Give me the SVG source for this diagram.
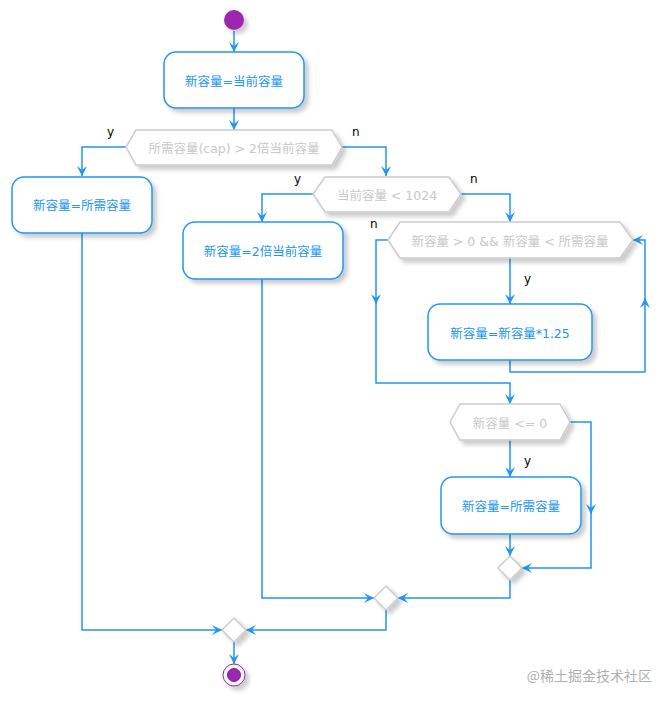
<svg xmlns="http://www.w3.org/2000/svg" width="670" height="703" viewBox="0 0 670 703">
<defs>
<filter id="sh" x="-20%" y="-20%" width="150%" height="160%">
<feDropShadow dx="4" dy="4" stdDeviation="2" flood-color="#000" flood-opacity="0.2"/>
</filter>
<marker id="ar" viewBox="0 0 10 10" markerWidth="10" markerHeight="10" refX="10" refY="5" orient="auto" markerUnits="userSpaceOnUse">
<path d="M0,0 L10,5 L0,10 L4,5 Z" fill="#2196F3"/>
</marker>
</defs>
<style>
.box{fill:#fff;stroke:#2196F3;stroke-width:1.5;filter:url(#sh)}
.hex{fill:#fff;stroke:#ccc;stroke-width:1.5;filter:url(#sh)}
.bt{font-family:"DejaVu Sans","Noto Sans CJK SC",sans-serif;font-size:12.5px;fill:#2196F3;text-anchor:middle;dominant-baseline:central}
.ht{font-family:"DejaVu Sans","Noto Sans CJK SC",sans-serif;font-size:12.5px;fill:#c8c8c8;text-anchor:middle;dominant-baseline:central}
.lb{font-family:"DejaVu Sans","Noto Sans CJK SC",sans-serif;font-size:12px;fill:#000}
.ln{fill:none;stroke:#2196F3;stroke-width:1.5;marker-end:url(#ar)}
</style>
<g id="connectors">
<path class="ln" d="M234,31 V52"/>
<path class="ln" d="M234,108 V130"/>
<path class="ln" d="M126,147 H82 V176"/>
<path class="ln" d="M342,147 H386 V176"/>
<path class="ln" d="M313,194 H262 V222"/>
<path class="ln" d="M461,194 H510 V222"/>
<path class="ln" d="M510,258 V304"/>
<path class="ln" d="M388,240 H376 V304"/>
<path class="ln" d="M376,303 V383 H510 V404"/>
<path class="ln" d="M510,360 V372 H645 V298"/>
<path class="ln" d="M645,299 V240 H633"/>
<path class="ln" d="M510,440 V477"/>
<path class="ln" d="M570,422 H591 V514"/>
<path class="ln" d="M591,513 V568 H522"/>
<path class="ln" d="M510,534 V556"/>
<path class="ln" d="M510,580 V598 H398"/>
<path class="ln" d="M262,279 V598 H374"/>
<path class="ln" d="M386,610 V630 H246"/>
<path class="ln" d="M82,233 V630 H222"/>
<path class="ln" d="M234,642 V664"/>
</g>
<g id="start"><circle cx="234" cy="20" r="10" fill="#9C27B0" filter="url(#sh)"/></g>
<g id="n1"><rect class="box" x="164" y="52" width="140" height="56" rx="12"/><text class="bt" x="234" y="81">新容量=当前容量</text></g>
<g id="d1"><polygon class="hex" points="126,147 136,130 332,130 342,147 332,165 136,165"/><text class="ht" x="234" y="148">所需容量(cap) &gt; 2倍当前容量</text></g>
<text class="lb" x="107" y="136">y</text>
<text class="lb" x="352" y="136">n</text>
<g id="n2"><rect class="box" x="12" y="177" width="140" height="56" rx="12"/><text class="bt" x="82" y="205">新容量=所需容量</text></g>
<g id="d2"><polygon class="hex" points="313,194 325,177 449,177 461,194 449,212 325,212"/><text class="ht" x="387" y="195">当前容量 &lt; 1024</text></g>
<text class="lb" x="294" y="183">y</text>
<text class="lb" x="470" y="183">n</text>
<g id="n3"><rect class="box" x="183" y="222" width="160" height="57" rx="12"/><text class="bt" x="263" y="251">新容量=2倍当前容量</text></g>
<g id="d3"><polygon class="hex" points="388,240 400,222 620,222 633,240 620,258 400,258"/><text class="ht" x="510" y="241">新容量 &gt; 0 &amp;&amp; 新容量 &lt; 所需容量</text></g>
<text class="lb" x="370" y="228">n</text>
<text class="lb" x="524" y="283">y</text>
<g id="n4"><rect class="box" x="428" y="304" width="164" height="56" rx="12"/><text class="bt" x="510" y="333">新容量=新容量*1.25</text></g>
<g id="d4"><polygon class="hex" points="450,422 460,404 560,404 570,422 560,440 460,440"/><text class="ht" x="510" y="423">新容量 &lt;= 0</text></g>
<text class="lb" x="524" y="465">y</text>
<g id="n5"><rect class="box" x="441" y="477" width="140" height="57" rx="12"/><text class="bt" x="511" y="506">新容量=所需容量</text></g>
<g id="m1"><polygon class="hex" points="510,556 522,568 510,580 498,568"/></g>
<g id="m2"><polygon class="hex" points="386,586 398,598 386,610 374,598"/></g>
<g id="m3"><polygon class="hex" points="234,618 246,630 234,642 222,630"/></g>
<g id="end"><circle cx="234" cy="675" r="11" fill="#f2f2f2" stroke="#9C27B0" stroke-width="1" filter="url(#sh)"/><circle cx="234" cy="675" r="6.5" fill="#9C27B0" stroke="#5b1468" stroke-width="0.8"/></g>
<text x="652" y="681" text-anchor="end" font-family="'Noto Sans CJK SC',sans-serif" font-size="14" fill="#b0b0b0">@稀土掘金技术社区</text>
</svg>
